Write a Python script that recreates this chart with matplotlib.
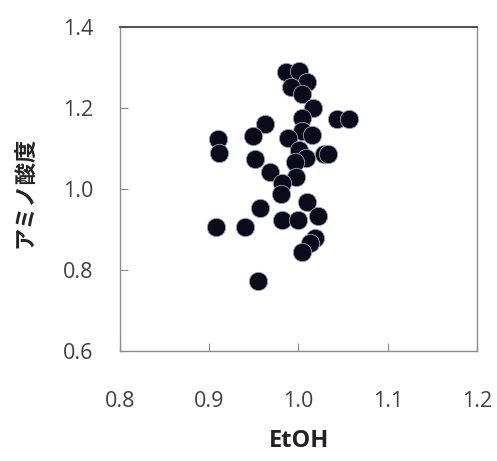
import matplotlib.pyplot as plt

plt.rcParams['font.family'] = ['Open Sans', 'Noto Sans CJK JP', 'DejaVu Sans']

# EtOH vs amino acidity samples
etoh = [0.986, 1.001, 1.009, 0.992, 1.004, 1.016, 1.004, 1.043, 1.057, 0.962,
        0.949, 1.004, 1.015, 0.988, 0.910, 0.911, 1.001, 0.951, 1.008, 0.996,
        1.029, 1.033, 0.968, 0.997, 0.982, 0.980, 1.009, 0.957, 1.022, 0.982,
        0.999, 0.908, 0.940, 1.018, 1.013, 1.004, 0.955]
amino = [1.290, 1.292, 1.263, 1.253, 1.235, 1.199, 1.176, 1.173, 1.173, 1.160,
         1.132, 1.143, 1.133, 1.125, 1.123, 1.090, 1.096, 1.074, 1.077, 1.067,
         1.086, 1.086, 1.043, 1.030, 1.014, 0.988, 0.969, 0.952, 0.933, 0.923,
         0.923, 0.907, 0.907, 0.878, 0.867, 0.844, 0.774]

xticks = [0.8, 0.9, 1.0, 1.1, 1.2]
yticks = [0.6, 0.8, 1.0, 1.2, 1.4]

fig = plt.figure(figsize=(4.97, 4.61), dpi=100)
ax = fig.add_axes([0.2414, 0.2386, 0.7184, 0.7028])

ax.scatter(etoh, amino, s=175, c='#0a0a18', edgecolors='#9aa6b8',
           linewidths=0.6, zorder=3)

ax.set_xlim(0.8, 1.2)
ax.set_ylim(0.6, 1.4)
ax.set_xticks(xticks)
ax.set_yticks(yticks)
ax.set_xticklabels([f'{v:.1f}' for v in xticks])
ax.set_yticklabels([f'{v:.1f}' for v in yticks])

for side in ax.spines.values():
    side.set_color('#8c8c8c')
    side.set_linewidth(1.0)
ax.spines['top'].set_color('#555555')
ax.spines['top'].set_linewidth(1.5)

ax.tick_params(axis='x', direction='in', length=6, color='#8c8c8c',
               labelsize=15.5, labelcolor='#404040', pad=29)
ax.tick_params(axis='y', direction='in', length=6, color='#8c8c8c',
               labelsize=15.5, labelcolor='#404040', pad=19)

fig.text(0.6016, 0.043, 'EtOH', ha='center', va='center',
         fontsize=17, fontweight='bold', color='#222222')
fig.text(0.052, 0.583, 'アミノ酸度', ha='center', va='center', rotation=90,
         fontsize=16, fontweight='bold', color='#222222')

fig.savefig('out.png', dpi=100)
